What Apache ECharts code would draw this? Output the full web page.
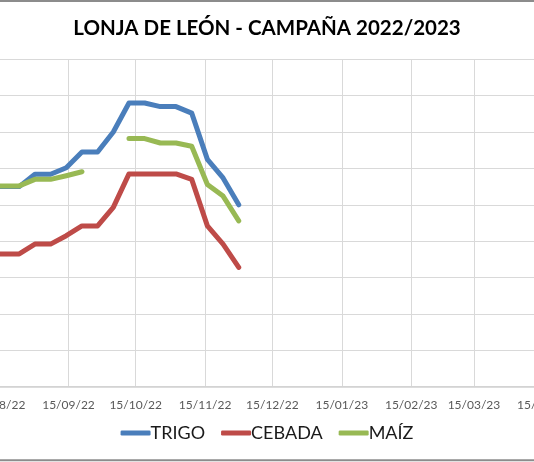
<!DOCTYPE html>
<html>
<head>
<meta charset="utf-8">
<script src="https://cdn.jsdelivr.net/npm/echarts@6/dist/echarts.min.js"></script>
<style>
  html, body { margin: 0; padding: 0; background: #fff; }
  #chart { width: 534px; height: 462px; }
</style>
</head>
<body>
<div id="chart"></div>
<script>
// ---- data (weekly quotations, €/t) ----
const dates  = ['10/08/22','17/08/22','24/08/22','31/08/22','07/09/22','14/09/22','21/09/22','28/09/22','05/10/22','12/10/22','19/10/22','26/10/22','02/11/22','09/11/22','16/11/22','23/11/22','30/11/22'];
const trigo  = [315, 315, 315, 318.4, 318.4, 320.2, 324.5, 324.5, 330, 338, 338, 337, 337, 335.2, 322.5, 317.4, 310];
const cebada = [296.5, 296.5, 296.5, 299.2, 299.2, 301.5, 304.2, 304.2, 309.3, 318.5, 318.5, 318.5, 318.5, 317, 304.2, 299.2, 292.8];
const maiz   = [315.2, 315.2, 315.2, 317, 317, 318, 319.1, null, null, 328.2, 328.2, 327, 327, 326.1, 315.6, 312.4, 305.6];
const seriesNames = ['TRIGO', 'CEBADA', 'MAÍZ'];
const tickLabels = ['15/08/22','15/09/22','15/10/22','15/11/22','15/12/22','15/01/23','15/02/23','15/03/23','15/04/23'];
const axisStart = [2022, 7, 1];   // 01/08/22
const axisEnd   = [2023, 3, 15];  // 15/04/23

// ---- daily category axis ----
function fmt(d) {
  const dd = String(d.getUTCDate()).padStart(2, '0');
  const mm = String(d.getUTCMonth() + 1).padStart(2, '0');
  const yy = String(d.getUTCFullYear() % 100).padStart(2, '0');
  return dd + '/' + mm + '/' + yy;
}
const days = [];
for (let t = Date.UTC(...axisStart); t <= Date.UTC(...axisEnd); t += 86400000) {
  days.push(fmt(new Date(t)));
}
const isTick = (idx, val) => tickLabels.indexOf(val) >= 0;
const pairs = arr => dates.map((d, i) => [d, arr[i] == null ? '-' : arr[i]]);

const colors = ['#4A7EBB', '#BE4B48', '#98B954'];
const font = 'Lato, "Open Sans", sans-serif';

const chart = echarts.init(document.getElementById('chart'), null, { renderer: 'canvas' });
chart.setOption({
  animation: false,
  backgroundColor: '#ffffff',
  title: {
    text: 'LONJA DE LEÓN - CAMPAÑA 2022/2023',
    left: 'center',
    top: 13,
    textStyle: { fontFamily: font, fontSize: 20.5, fontWeight: 'bold', color: '#000' }
  },
  legend: {
    bottom: 15,
    left: 'center',
    icon: 'roundRect',
    itemWidth: 30,
    itemHeight: 5,
    itemGap: 16,
    textStyle: { fontFamily: font, fontSize: 18, color: '#1a1a1a', padding: [0, 0, 0, -5] },
    data: seriesNames
  },
  grid: {
    left: -32.3,
    right: -9.4,
    top: 59.3,
    bottom: 75.3,
    outerBoundsMode: 'none',
    containLabel: false
  },
  xAxis: {
    type: 'category',
    data: days,
    boundaryGap: false,
    axisLine: { show: true, lineStyle: { color: '#D0D0D0', width: 1.5 } },
    axisTick: { show: false },
    axisLabel: {
      interval: isTick,
      fontFamily: font,
      fontSize: 12,
      color: '#595959',
      margin: 12
    },
    splitLine: { show: true, interval: isTick, lineStyle: { color: '#D9D9D9', width: 1 } }
  },
  yAxis: {
    type: 'value',
    min: 260,
    max: 350,
    interval: 10,
    axisLine: { show: false },
    axisTick: { show: false },
    axisLabel: { show: false },
    splitLine: { show: true, lineStyle: { color: '#D9D9D9', width: 1.2 } }
  },
  graphic: [
    { type: 'rect', shape: { x: 0, y: 0, width: 534, height: 2 }, style: { fill: '#8C8C8C' }, silent: true },
    { type: 'rect', shape: { x: 0, y: 459.3, width: 534, height: 2 }, style: { fill: '#8C8C8C' }, silent: true }
  ],
  series: [trigo, cebada, maiz].map((arr, i) => ({
    name: seriesNames[i],
    type: 'line',
    data: pairs(arr),
    showSymbol: false,
    symbol: 'none',
    connectNulls: false,
    clip: true,
    color: colors[i],
    lineStyle: { width: 5, color: colors[i], cap: 'round', join: 'round' }
  }))
});
</script>
</body>
</html>
